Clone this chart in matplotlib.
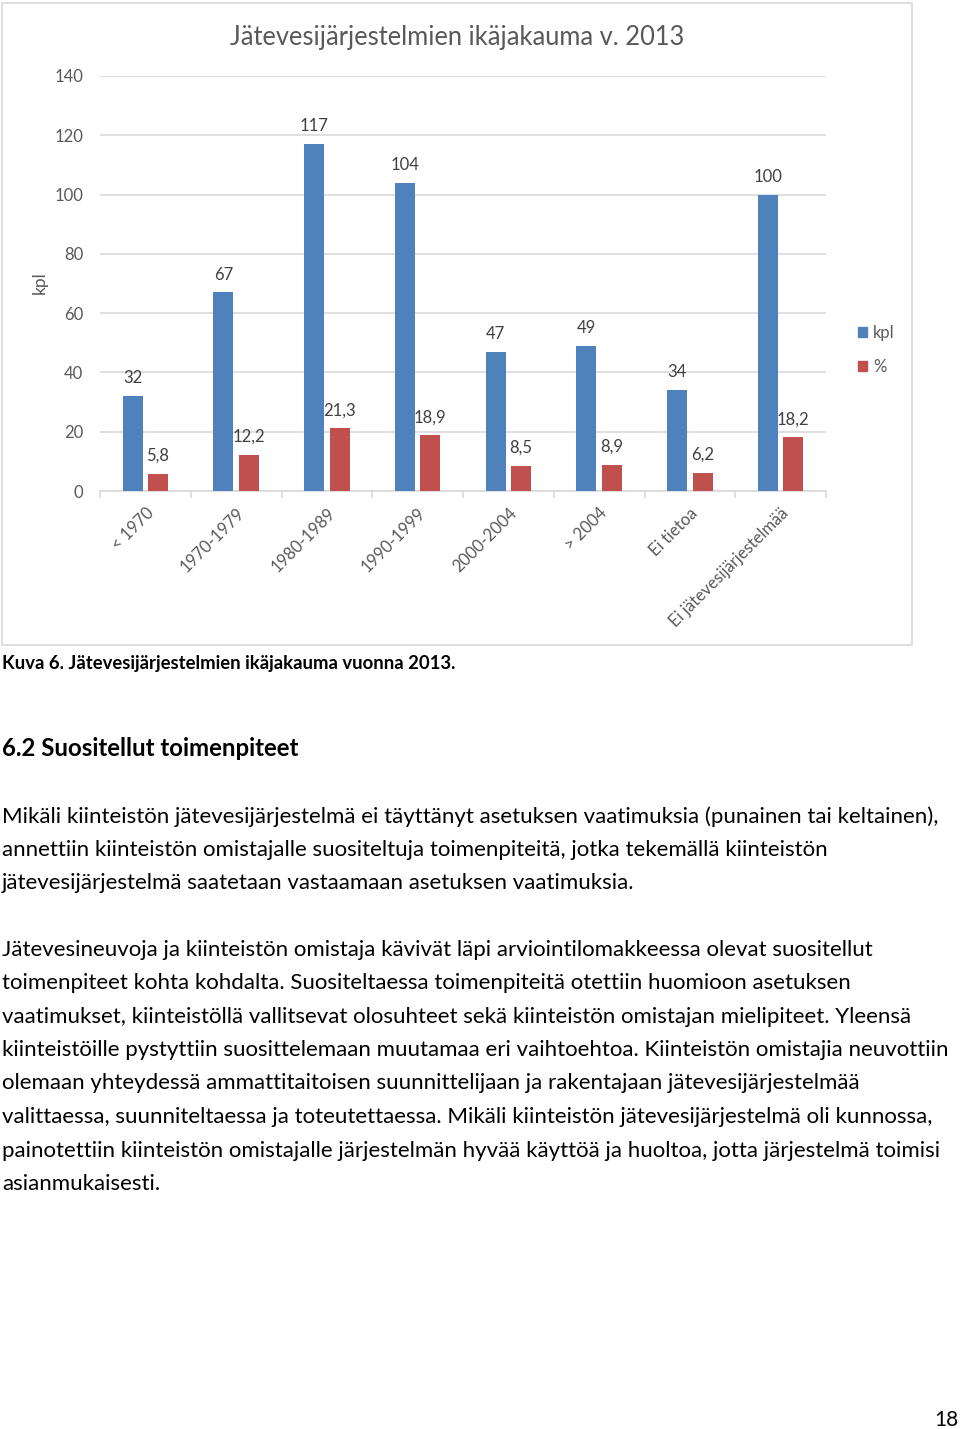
import matplotlib
matplotlib.use("Agg")
import matplotlib.pyplot as plt
from matplotlib.patches import Rectangle, Patch
import numpy as np

plt.rcParams['font.family'] = ['Lato', 'DejaVu Sans']

categories = ["< 1970", "1970-1979", "1980-1989", "1990-1999", "2000-2004", "> 2004", "Ei tietoa", "Ei jätevesijärjestelmää"]
kpl = [32, 67, 117, 104, 47, 49, 34, 100]
pct = [5.8, 12.2, 21.3, 18.9, 8.5, 8.9, 6.2, 18.2]
yticks = [0, 20, 40, 60, 80, 100, 120, 140]
series_names = ["kpl", "%"]

title = "Jätevesijärjestelmien ikäjakauma v. 2013"
ylabel = "kpl"
caption = "Kuva 6. Jätevesijärjestelmien ikäjakauma vuonna 2013."
heading = "6.2 Suositellut toimenpiteet"
para1 = [
    "Mikäli kiinteistön jätevesijärjestelmä ei täyttänyt asetuksen vaatimuksia (punainen tai keltainen),",
    "annettiin kiinteistön omistajalle suositeltuja toimenpiteitä, jotka tekemällä kiinteistön",
    "jätevesijärjestelmä saatetaan vastaamaan asetuksen vaatimuksia.",
]
para2 = [
    "Jätevesineuvoja ja kiinteistön omistaja kävivät läpi arviointilomakkeessa olevat suositellut",
    "toimenpiteet kohta kohdalta. Suositeltaessa toimenpiteitä otettiin huomioon asetuksen",
    "vaatimukset, kiinteistöllä vallitsevat olosuhteet sekä kiinteistön omistajan mielipiteet. Yleensä",
    "kiinteistöille pystyttiin suosittelemaan muutamaa eri vaihtoehtoa. Kiinteistön omistajia neuvottiin",
    "olemaan yhteydessä ammattitaitoisen suunnittelijaan ja rakentajaan jätevesijärjestelmää",
    "valittaessa, suunniteltaessa ja toteutettaessa. Mikäli kiinteistön jätevesijärjestelmä oli kunnossa,",
    "painotettiin kiinteistön omistajalle järjestelmän hyvää käyttöä ja huoltoa, jotta järjestelmä toimisi",
    "asianmukaisesti.",
]
page_no = "18"

W, H = 960, 1429
fig = plt.figure(figsize=(W / 100, H / 100), dpi=100)
fig.patch.set_facecolor("white")

def fx(x):
    return x / W

def fy(y):
    return 1 - y / H

# chart frame
fig.patches.append(Rectangle((fx(2), fy(645)), fx(912) - fx(2), fy(3) - fy(645),
                             transform=fig.transFigure, facecolor="none",
                             edgecolor="#D9D9D9", lw=1.2, zorder=-1))

ax = fig.add_axes([fx(100), fy(491), fx(826) - fx(100), fy(76) - fy(491)])
ax.patch.set_alpha(0)
blue, red = "#4F81BD", "#C0504D"
x = np.arange(len(categories))
bw = 0.22
b1 = ax.bar(x - 0.14, kpl, width=bw, color=blue, zorder=3, label=series_names[0])
b2 = ax.bar(x + 0.14, pct, width=bw, color=red, zorder=3, label=series_names[1])

ax.set_xlim(-0.5, len(categories) - 0.5)
ax.set_ylim(0, 140)
ax.set_yticks(yticks)
ax.yaxis.grid(True, color="#D9D9D9", lw=1.2, zorder=0)
ax.set_axisbelow(True)
for s in ["top", "right", "left"]:
    ax.spines[s].set_visible(False)
ax.spines["bottom"].set_color("#D9D9D9")
ax.spines["bottom"].set_linewidth(1.2)
ax.tick_params(axis="y", length=0, pad=12, labelsize=12, labelcolor="#595959")
ax.set_xticks(x)
ax.set_xticklabels(categories, rotation=45, ha="right", rotation_mode="anchor",
                   fontsize=12, color="#595959")
ax.tick_params(axis="x", which="major", length=0, pad=10)
ax.set_xticks(np.arange(-0.5, len(categories) + 0.5, 1), minor=True)
ax.tick_params(axis="x", which="minor", length=5, color="#D9D9D9", width=1.2)

for rect, v in zip(b1, kpl):
    ax.annotate(f"{v}", (rect.get_x() + rect.get_width() / 2, v), xytext=(0, 7),
                textcoords="offset points", ha="center", va="bottom",
                fontsize=12, color="#404040")
for rect, v in zip(b2, pct):
    ax.annotate(f"{v:.1f}".replace(".", ","), (rect.get_x() + rect.get_width() / 2, v),
                xytext=(0, 7), textcoords="offset points", ha="center", va="bottom",
                fontsize=12, color="#404040")

fig.text(fx(40), fy(283), ylabel, rotation=90, ha="center", va="center",
         fontsize=12.5, color="#595959")
fig.text(fx(457), fy(38), title, ha="center", va="center", fontsize=18.4, color="#595959")

leg = fig.legend(handles=[Patch(color=blue), Patch(color=red)], labels=series_names,
                 loc="center left", bbox_to_anchor=(fx(843), fy(350)),
                 frameon=False, handlelength=0.55, handleheight=0.55, handletextpad=0.35,
                 labelspacing=1.1, fontsize=12)
for t in leg.get_texts():
    t.set_color("#595959")

# text below
fig.text(fx(2), fy(663), caption, ha="left", va="center", fontsize=13.3,
         fontweight="bold", color="black")
fig.text(fx(2), fy(748), heading, ha="left", va="center", fontsize=17.3,
         fontweight="bold", color="black")

ys1 = [817, 850, 883]
ys2 = [950, 983, 1017, 1050, 1083, 1117, 1151, 1184]
for yy, line in zip(ys1, para1):
    fig.text(fx(2), fy(yy + 6), line, ha="left", va="baseline", fontsize=16.05, color="black")
for yy, line in zip(ys2, para2):
    fig.text(fx(2), fy(yy + 6), line, ha="left", va="baseline", fontsize=16.05, color="black")

fig.text(fx(958), fy(1420), page_no, ha="right", va="center", fontsize=15, color="black")

fig.savefig("out.png", dpi=100, facecolor="white")
